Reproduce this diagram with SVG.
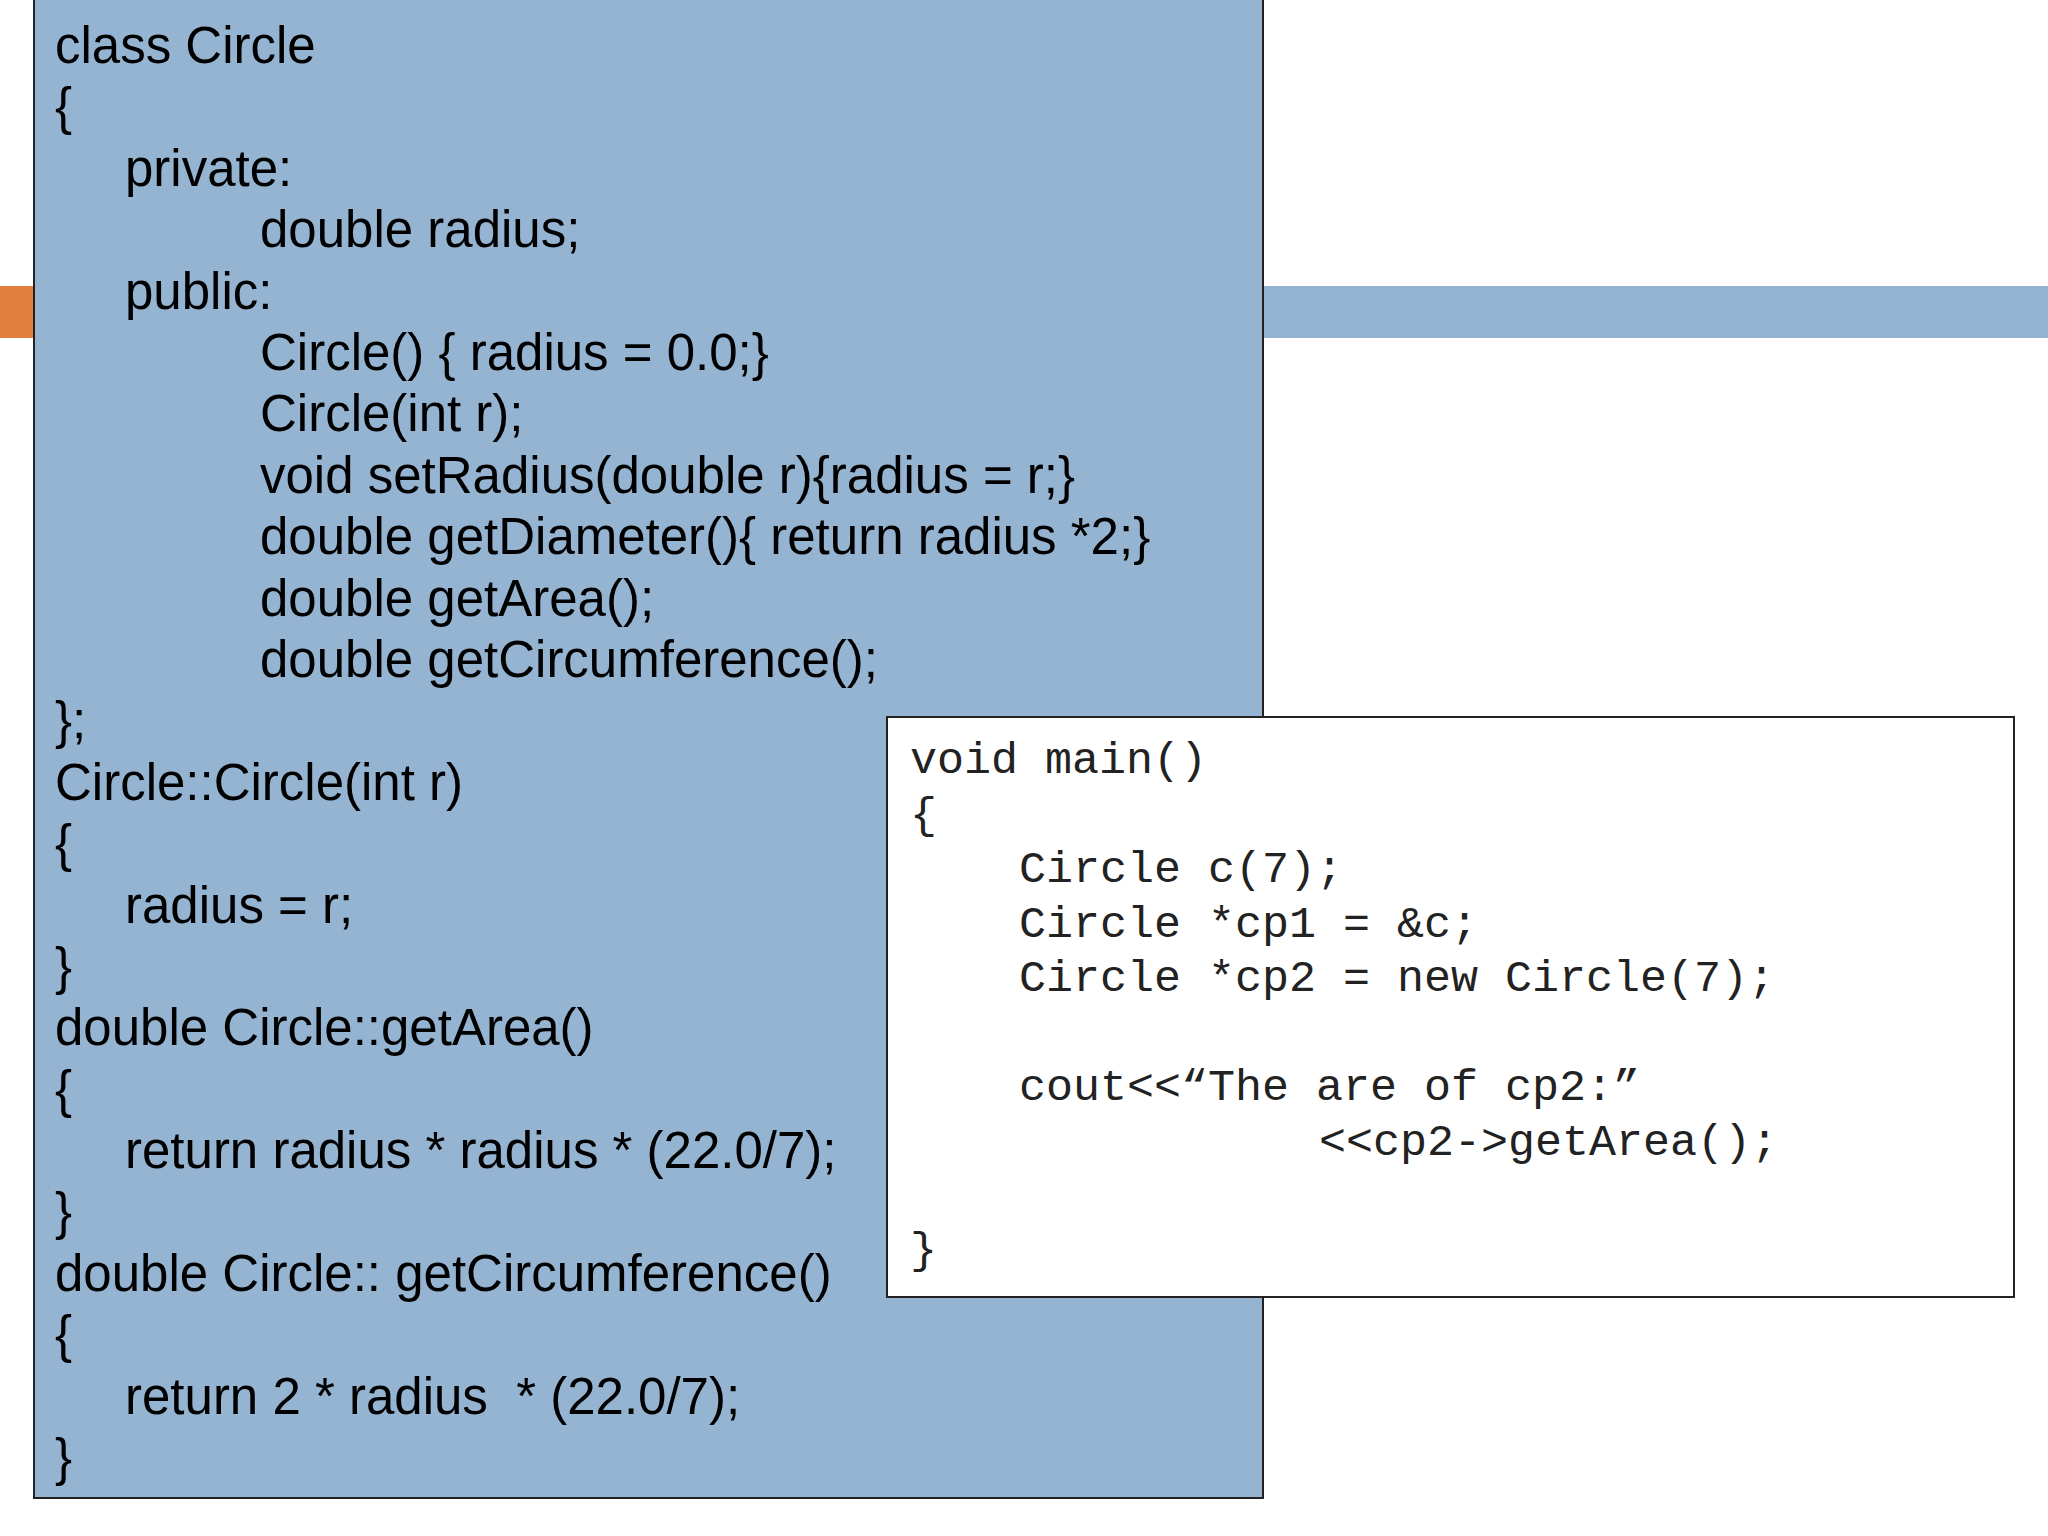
<svg xmlns="http://www.w3.org/2000/svg" width="2048" height="1536" viewBox="0 0 2048 1536">
<style>
.s{font-family:"Liberation Sans",Arial,sans-serif;font-size:51px;fill:#000}
.m{font-family:"Liberation Mono","Courier New",monospace;font-size:45px;fill:#222}
</style>
<rect width="2048" height="1536" fill="#fff"/>
<rect x="0" y="286" width="34" height="52" fill="#e07f3f"/>
<rect x="1263" y="286" width="785" height="52" fill="#95b4d2"/>
<g id="class-box">
<rect x="34" y="-2" width="1229" height="1500" fill="#95b4d2" stroke="#222" stroke-width="2"/>
<text class="s" x="55" y="63">class Circle</text>
<text class="s" x="55" y="124">{</text>
<text class="s" x="125" y="186">private:</text>
<text class="s" x="260" y="247">double radius;</text>
<text class="s" x="125" y="309">public:</text>
<text class="s" x="260" y="370">Circle() { radius = 0.0;}</text>
<text class="s" x="260" y="431">Circle(int r);</text>
<text class="s" x="260" y="493">void setRadius(double r){radius = r;}</text>
<text class="s" x="260" y="554">double getDiameter(){ return radius *2;}</text>
<text class="s" x="260" y="616">double getArea();</text>
<text class="s" x="260" y="677">double getCircumference();</text>
<text class="s" x="55" y="738">};</text>
<text class="s" x="55" y="800">Circle::Circle(int r)</text>
<text class="s" x="55" y="861">{</text>
<text class="s" x="125" y="923">radius = r;</text>
<text class="s" x="55" y="984">}</text>
<text class="s" x="55" y="1045">double Circle::getArea()</text>
<text class="s" x="55" y="1107">{</text>
<text class="s" x="125" y="1168">return radius * radius * (22.0/7);</text>
<text class="s" x="55" y="1229">}</text>
<text class="s" x="55" y="1291">double Circle:: getCircumference()</text>
<text class="s" x="55" y="1352">{</text>
<text class="s" x="125" y="1414" xml:space="preserve">return 2 * radius  * (22.0/7);</text>
<text class="s" x="55" y="1475">}</text>
</g>
<g id="main-box">
<rect x="887" y="717" width="1127" height="580" fill="#fff" stroke="#222" stroke-width="2"/>
<text class="m" x="910" y="773">void main()</text>
<text class="m" x="910" y="828">{</text>
<text class="m" x="1019" y="882">Circle c(7);</text>
<text class="m" x="1019" y="937">Circle *cp1 = &amp;c;</text>
<text class="m" x="1019" y="991">Circle *cp2 = new Circle(7);</text>
<text class="m" x="1019" y="1100">cout&lt;&lt;“The are of cp2:”</text>
<text class="m" x="1319" y="1155">&lt;&lt;cp2-&gt;getArea();</text>
<text class="m" x="910" y="1263">}</text>
</g>
<g id="connectors"/>
</svg>
